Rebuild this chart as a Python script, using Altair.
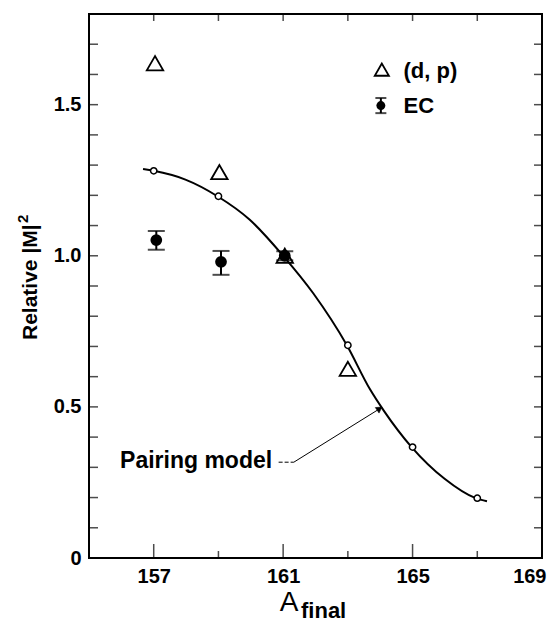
import altair as alt
import pandas as pd

# ---- data ----
curve_x = [156.67, 157.0, 157.98, 158.97, 159.96, 161.0, 161.93, 162.97, 163.68, 164.12, 164.97, 165.99, 166.95, 167.3]
curve_y = [1.287, 1.281, 1.252, 1.197, 1.120, 1.000, 0.876, 0.704, 0.559, 0.486, 0.367, 0.262, 0.198, 0.188]
model_x = [157, 159, 161, 163, 165, 167]
model_y = [1.281, 1.197, 1.000, 0.704, 0.367, 0.198]
dp_x = [157.04, 159.03, 161.05, 163.0]
dp_y = [1.637, 1.277, 1.000, 0.626]
ec_x = [157.08, 159.08, 161.05]
ec_y = [1.052, 0.980, 1.000]
ec_lo = [1.020, 0.937, 0.985]
ec_hi = [1.082, 1.016, 1.015]

x_label_ticks = [157, 161, 165, 169]
x_major_ticks = [157, 161, 165, 169]
x_minor_ticks = [159, 163, 167]
x_top_ticks = [157, 159, 161, 163, 165, 167]
y_label_ticks = [0, 0.5, 1.0, 1.5]
y_ticks = [0.1, 0.2, 0.3, 0.4, 0.5, 0.6, 0.7, 0.8, 0.9, 1.0, 1.1, 1.2, 1.3, 1.4, 1.5, 1.6, 1.7]
legend_labels = ["(d,  p)", "EC"]

X_DOMAIN = [155, 169]
Y_DOMAIN = [0, 1.8]

FONT = "Liberation Sans"

xs = alt.Scale(domain=X_DOMAIN, nice=False, zero=False)
ys = alt.Scale(domain=Y_DOMAIN, nice=False, zero=False)

x_axis = alt.Axis(values=x_label_ticks, ticks=False, domain=False, grid=False,
                  labelFont=FONT, labelFontSize=20, labelFontWeight="bold",
                  labelColor="black", labelPadding=8, labelFlush=True, labelFlushOffset=4,
                  title=None)
y_axis = alt.Axis(values=y_label_ticks, ticks=False, domain=False, grid=False,
                  labelExpr="datum.value == 0 ? '0' : format(datum.value, '.1f')",
                  labelFont=FONT, labelFontSize=20, labelFontWeight="bold",
                  labelColor="black", labelPadding=8, title=None)

X = alt.X("x:Q", scale=xs, axis=x_axis)
Y = alt.Y("y:Q", scale=ys, axis=y_axis)

curve_df = pd.DataFrame({"x": curve_x, "y": curve_y})
model_df = pd.DataFrame({"x": model_x, "y": model_y})
dp_df = pd.DataFrame({"x": dp_x, "y": dp_y})
ec_df = pd.DataFrame({"x": ec_x, "y": ec_y, "lo": ec_lo, "hi": ec_hi})
caps_df = pd.DataFrame({"x": ec_x + ec_x, "y": ec_lo + ec_hi})

curve = alt.Chart(curve_df).mark_line(color="black", strokeWidth=2, interpolate="monotone").encode(x=X, y=Y)
model_pts = alt.Chart(model_df).mark_point(shape="circle", filled=True, fill="white", stroke="black",
                                            strokeWidth=1.5, size=40, opacity=1).encode(x=X, y=Y)
dp_pts = alt.Chart(dp_df).mark_point(shape="triangle-up", filled=False, stroke="black",
                                     strokeWidth=1.8, size=270, opacity=1).encode(x=X, y=Y)
ec_bars = alt.Chart(ec_df).mark_rule(color="black", strokeWidth=2).encode(
    x=X, y=alt.Y("lo:Q", scale=ys, axis=y_axis), y2="hi:Q")
ec_caps = alt.Chart(caps_df).mark_tick(orient="horizontal", color="black", thickness=2, size=17).encode(x=X, y=Y)
ec_pts = alt.Chart(ec_df).mark_point(shape="circle", filled=True, fill="black", stroke="black",
                                     size=95, opacity=1).encode(x=X, y=Y)

# frame ticks (inward)
bot_major = alt.Chart(pd.DataFrame({"x": x_major_ticks, "y": [0] * len(x_major_ticks)})).mark_tick(
    orient="vertical", color="black", thickness=1.5, size=28, clip=True).encode(x=X, y=Y)
bot_minor = alt.Chart(pd.DataFrame({"x": x_minor_ticks, "y": [0] * len(x_minor_ticks)})).mark_tick(
    orient="vertical", color="black", thickness=1.5, size=14, clip=True).encode(x=X, y=Y)
top_ticks = alt.Chart(pd.DataFrame({"x": x_top_ticks, "y": [Y_DOMAIN[1]] * len(x_top_ticks)})).mark_tick(
    orient="vertical", color="black", thickness=1.5, size=14, clip=True).encode(x=X, y=Y)
left_ticks = alt.Chart(pd.DataFrame({"x": [X_DOMAIN[0]] * len(y_ticks), "y": y_ticks})).mark_tick(
    orient="horizontal", color="black", thickness=1.5, size=18, clip=True).encode(x=X, y=Y)
right_ticks = alt.Chart(pd.DataFrame({"x": [X_DOMAIN[1]] * len(y_ticks), "y": y_ticks})).mark_tick(
    orient="horizontal", color="black", thickness=1.5, size=16, clip=True).encode(x=X, y=Y)

# annotation
ann_text = alt.Chart(pd.DataFrame({"x": [155.96], "y": [0.297], "t": ["Pairing model"]})).mark_text(
    align="left", baseline="alphabetic", font=FONT, fontSize=23, fontWeight="bold", color="black"
).encode(x=X, y=Y, text="t:N")
ann_dash = alt.Chart(pd.DataFrame({"x": [160.86, 161.33], "y": [0.317, 0.317]})).mark_line(
    color="black", strokeWidth=1, strokeDash=[4, 2]).encode(x=X, y=Y)
ann_line = alt.Chart(pd.DataFrame({"x": [161.33, 164.0], "y": [0.317, 0.495]})).mark_line(
    color="black", strokeWidth=1).encode(x=X, y=Y)
ann_head = alt.Chart(pd.DataFrame({"x": [163.98], "y": [0.494]})).mark_point(
    shape="triangle-right", filled=True, fill="black", stroke="black", strokeWidth=0.5,
    size=45, angle=326, opacity=1).encode(x=X, y=Y)

# legend drawn in data space
leg_tri = alt.Chart(pd.DataFrame({"x": [164.05], "y": [1.616]})).mark_point(
    shape="triangle-up", filled=False, stroke="black", strokeWidth=1.8, size=200, opacity=1).encode(x=X, y=Y)
leg_ec_bar = alt.Chart(pd.DataFrame({"x": [164.02], "lo": [1.472], "hi": [1.522]})).mark_rule(
    color="black", strokeWidth=2).encode(x=X, y=alt.Y("lo:Q", scale=ys, axis=y_axis), y2="hi:Q")
leg_ec_caps = alt.Chart(pd.DataFrame({"x": [164.02, 164.02], "y": [1.472, 1.522]})).mark_tick(
    orient="horizontal", color="black", thickness=2, size=11).encode(x=X, y=Y)
leg_ec_pt = alt.Chart(pd.DataFrame({"x": [164.02], "y": [1.497]})).mark_point(
    shape="circle", filled=True, fill="black", size=80, opacity=1).encode(x=X, y=Y)
leg_text = alt.Chart(pd.DataFrame({"x": [164.72, 164.72], "y": [1.610, 1.494], "t": legend_labels})).mark_text(
    align="left", baseline="middle", font=FONT, fontSize=22, fontWeight="bold", color="black"
).encode(x=X, y=Y, text="t:N")

# y axis title: Relative |M| with a superscript 2 (rotated)
yt_main = alt.Chart(pd.DataFrame({"t": ["Relative |M|"]})).mark_text(
    align="left", baseline="alphabetic", angle=270, font=FONT, fontSize=21, fontWeight="bold", color="black"
).encode(x=alt.value(-52), y=alt.value(326), text="t:N")
yt_sup = alt.Chart(pd.DataFrame({"t": ["2"]})).mark_text(
    align="left", baseline="alphabetic", angle=270, font=FONT, fontSize=15, fontWeight="bold", color="black"
).encode(x=alt.value(-61), y=alt.value(209), text="t:N")

# x axis title: A with subscript "final"
xt_a = alt.Chart(pd.DataFrame({"t": ["A"]})).mark_text(
    align="center", baseline="alphabetic", font=FONT, fontSize=28, color="black"
).encode(x=alt.value(200), y=alt.value(597), text="t:N")
xt_f = alt.Chart(pd.DataFrame({"t": ["final"]})).mark_text(
    align="left", baseline="alphabetic", font=FONT, fontSize=22, fontWeight="bold", color="black"
).encode(x=alt.value(212), y=alt.value(604), text="t:N")

chart = alt.layer(
    bot_major, bot_minor, top_ticks, left_ticks, right_ticks,
    curve, model_pts, ec_bars, ec_caps, ec_pts, dp_pts,
    ann_dash, ann_line, ann_head, ann_text,
    leg_tri, leg_ec_bar, leg_ec_caps, leg_ec_pt, leg_text,
    yt_main, yt_sup, xt_a, xt_f,
).properties(
    width=453, height=544,
    padding={"left": 81, "top": 6, "right": 6, "bottom": 67},
    autosize=alt.AutoSizeParams(type="none"),
    background="white",
).configure_view(stroke="black", strokeWidth=2)

chart.save("out.html", embed_options={"renderer": "svg", "actions": False})
